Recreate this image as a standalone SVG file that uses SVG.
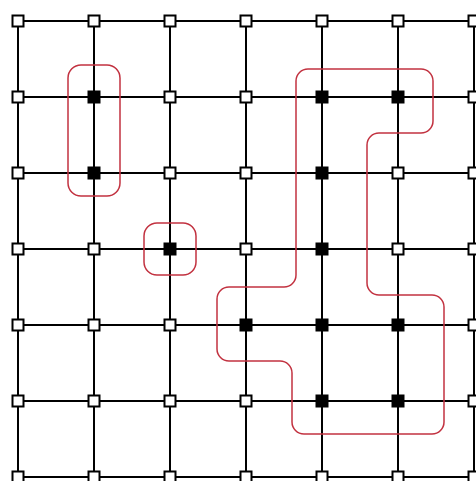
<svg xmlns="http://www.w3.org/2000/svg" width="476" height="481" viewBox="0 0 476 481">
<style>
.ln{stroke:#000;stroke-width:2;fill:none}
.w{fill:#fff;stroke:#000;stroke-width:2}
.b{fill:#000;stroke:#000;stroke-width:2}
.c{fill:none;stroke:#c23240;stroke-width:1.5}
</style>
<defs>
<rect id="sq" x="-5.5" y="-5.5" width="11" height="11"/>
</defs>
<rect width="476" height="481" fill="#fff"/>
<g id="connectors" class="ln">
<path d="M18 21H474M18 97H474M18 173H474M18 249H474M18 325H474M18 401H474M18 477H474"/>
<path d="M18 21V477M94 21V477M170 21V477M246 21V477M322 21V477M398 21V477M474 21V477"/>
</g>
<g id="regions" class="c">
<rect id="region1" x="68" y="65" width="52" height="131" rx="13"/>
<rect id="region2" x="144" y="223" width="52" height="52" rx="13"/>
<path id="region3" d="M308 69H421A12 12 0 0 1 433 81V121A12 12 0 0 1 421 133H379A12 12 0 0 0 367 145V283A12 12 0 0 0 379 295H432A12 12 0 0 1 444 307V422A12 12 0 0 1 432 434H304A12 12 0 0 1 292 422V373A12 12 0 0 0 280 361H229A12 12 0 0 1 217 349V299A12 12 0 0 1 229 287H284A12 12 0 0 0 296 275V81A12 12 0 0 1 308 69Z"/>
</g>
<g id="nodes">
<g id="n00"><use href="#sq" class="w" x="18" y="21"/></g>
<g id="n01"><use href="#sq" class="w" x="94" y="21"/></g>
<g id="n02"><use href="#sq" class="w" x="170" y="21"/></g>
<g id="n03"><use href="#sq" class="w" x="246" y="21"/></g>
<g id="n04"><use href="#sq" class="w" x="322" y="21"/></g>
<g id="n05"><use href="#sq" class="w" x="398" y="21"/></g>
<g id="n06"><use href="#sq" class="w" x="474" y="21"/></g>
<g id="n10"><use href="#sq" class="w" x="18" y="97"/></g>
<g id="n11"><use href="#sq" class="b" x="94" y="97"/></g>
<g id="n12"><use href="#sq" class="w" x="170" y="97"/></g>
<g id="n13"><use href="#sq" class="w" x="246" y="97"/></g>
<g id="n14"><use href="#sq" class="b" x="322" y="97"/></g>
<g id="n15"><use href="#sq" class="b" x="398" y="97"/></g>
<g id="n16"><use href="#sq" class="w" x="474" y="97"/></g>
<g id="n20"><use href="#sq" class="w" x="18" y="173"/></g>
<g id="n21"><use href="#sq" class="b" x="94" y="173"/></g>
<g id="n22"><use href="#sq" class="w" x="170" y="173"/></g>
<g id="n23"><use href="#sq" class="w" x="246" y="173"/></g>
<g id="n24"><use href="#sq" class="b" x="322" y="173"/></g>
<g id="n25"><use href="#sq" class="w" x="398" y="173"/></g>
<g id="n26"><use href="#sq" class="w" x="474" y="173"/></g>
<g id="n30"><use href="#sq" class="w" x="18" y="249"/></g>
<g id="n31"><use href="#sq" class="w" x="94" y="249"/></g>
<g id="n32"><use href="#sq" class="b" x="170" y="249"/></g>
<g id="n33"><use href="#sq" class="w" x="246" y="249"/></g>
<g id="n34"><use href="#sq" class="b" x="322" y="249"/></g>
<g id="n35"><use href="#sq" class="w" x="398" y="249"/></g>
<g id="n36"><use href="#sq" class="w" x="474" y="249"/></g>
<g id="n40"><use href="#sq" class="w" x="18" y="325"/></g>
<g id="n41"><use href="#sq" class="w" x="94" y="325"/></g>
<g id="n42"><use href="#sq" class="w" x="170" y="325"/></g>
<g id="n43"><use href="#sq" class="b" x="246" y="325"/></g>
<g id="n44"><use href="#sq" class="b" x="322" y="325"/></g>
<g id="n45"><use href="#sq" class="b" x="398" y="325"/></g>
<g id="n46"><use href="#sq" class="w" x="474" y="325"/></g>
<g id="n50"><use href="#sq" class="w" x="18" y="401"/></g>
<g id="n51"><use href="#sq" class="w" x="94" y="401"/></g>
<g id="n52"><use href="#sq" class="w" x="170" y="401"/></g>
<g id="n53"><use href="#sq" class="w" x="246" y="401"/></g>
<g id="n54"><use href="#sq" class="b" x="322" y="401"/></g>
<g id="n55"><use href="#sq" class="b" x="398" y="401"/></g>
<g id="n56"><use href="#sq" class="w" x="474" y="401"/></g>
<g id="n60"><use href="#sq" class="w" x="18" y="477"/></g>
<g id="n61"><use href="#sq" class="w" x="94" y="477"/></g>
<g id="n62"><use href="#sq" class="w" x="170" y="477"/></g>
<g id="n63"><use href="#sq" class="w" x="246" y="477"/></g>
<g id="n64"><use href="#sq" class="w" x="322" y="477"/></g>
<g id="n65"><use href="#sq" class="w" x="398" y="477"/></g>
<g id="n66"><use href="#sq" class="w" x="474" y="477"/></g>
</g>
</svg>
